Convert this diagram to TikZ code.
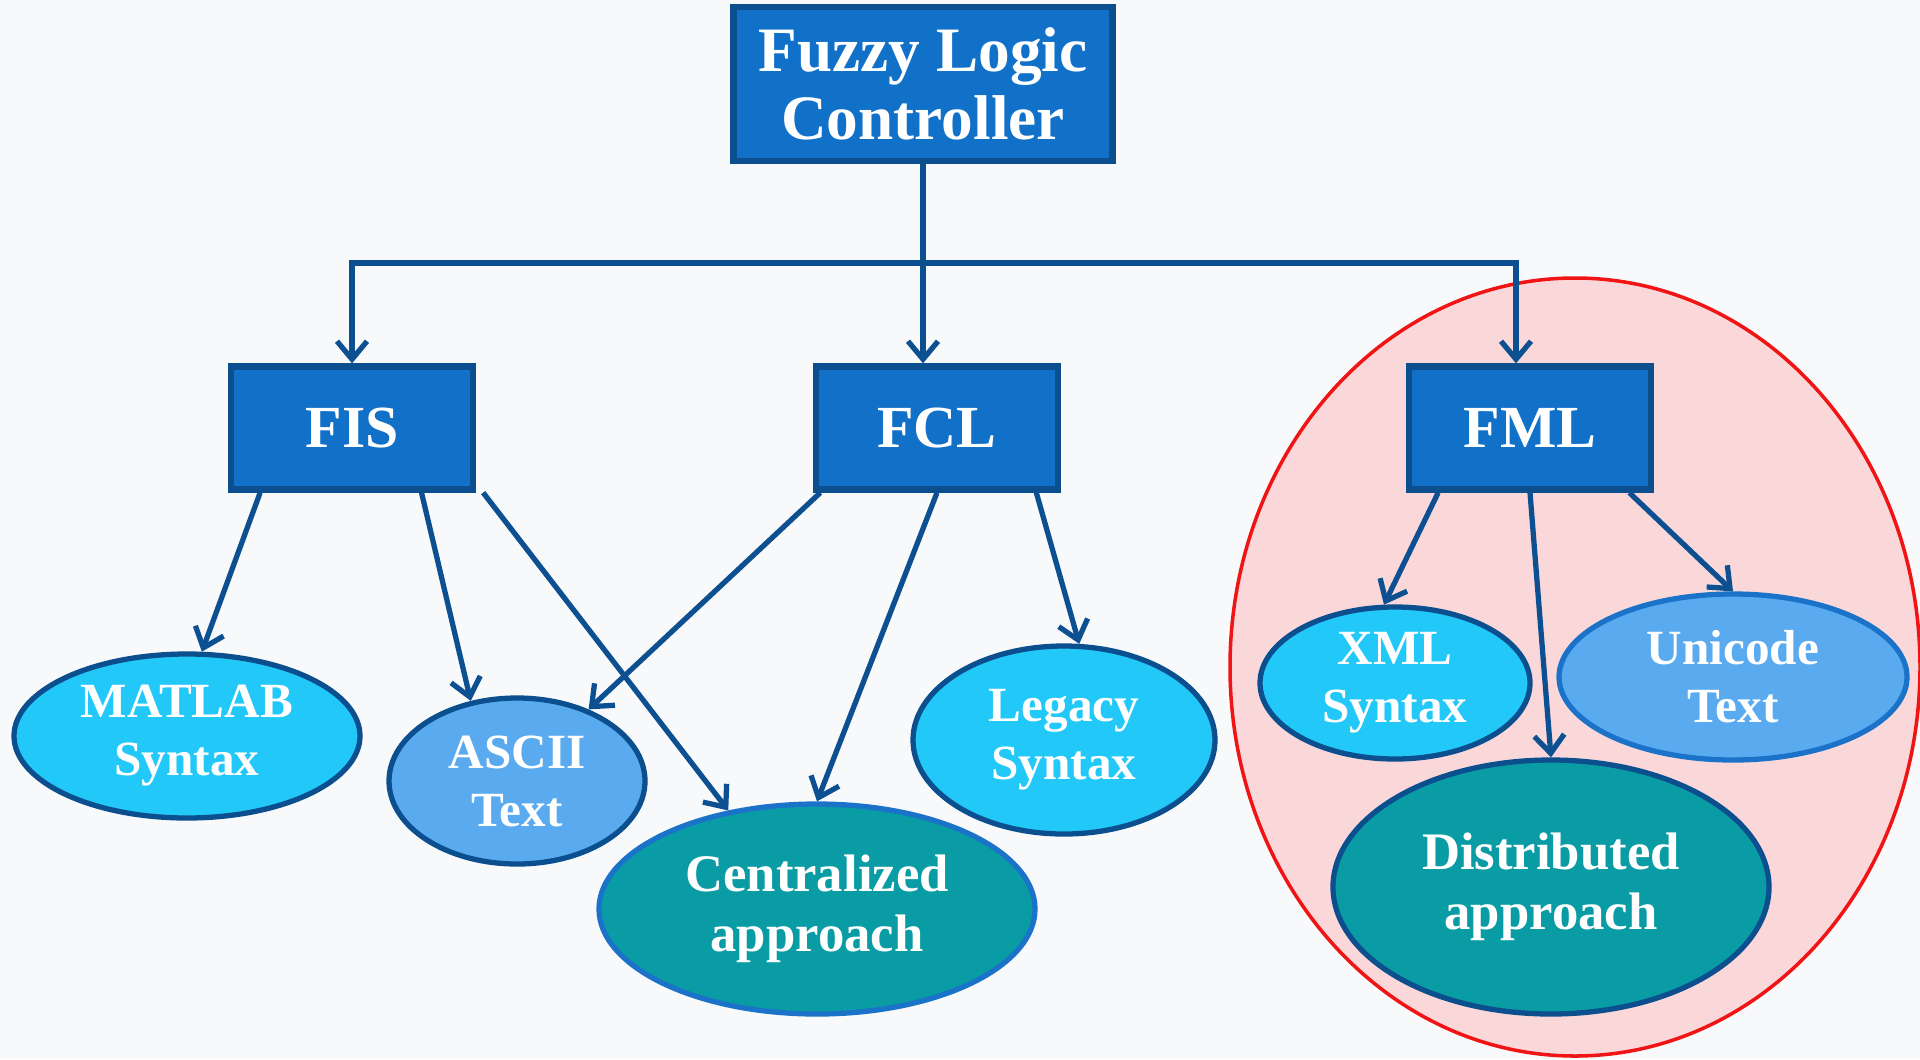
\documentclass[tikz,border=0pt]{standalone}
\usepackage{fontspec}
\setmainfont{Liberation Serif}
\usetikzlibrary{shapes.geometric,arrows.meta,calc}

\definecolor{boxfill}{RGB}{17,112,200}
\definecolor{boxline}{RGB}{11,79,143}
\definecolor{arrowblue}{RGB}{13,80,145}
\definecolor{leafcyan}{RGB}{34,200,247}
\definecolor{leafblue}{RGB}{90,170,240}
\definecolor{leafteal}{RGB}{10,156,164}
\definecolor{lightrim}{RGB}{26,115,200}
\definecolor{zonefill}{RGB}{250,216,218}
\definecolor{zonerim}{RGB}{240,20,20}
\definecolor{bgpaper}{RGB}{248,249,250}

\begin{document}
\begin{tikzpicture}[
    box/.style={draw=boxline, line width=1.8pt, fill=boxfill, text=white, minimum width=2.42cm, minimum height=1.23cm, align=center, font=\fontsize{17}{19}\selectfont\bfseries},
    leaf/.style={ellipse, draw=boxline, line width=1.5pt, text=white, inner sep=0pt, align=center, font=\fontsize{14}{16.5}\selectfont\bfseries},
    bigleaf/.style={leaf, fill=leafteal, font=\fontsize{15}{17}\selectfont\bfseries},
    arr/.style={-{Straight Barb[length=1.8mm,width=3mm]}, line width=1.5pt, draw=arrowblue},
]
    % --- canvas ---
    \fill[bgpaper] (0,0) rectangle (19.2,-10.59);
    \useasboundingbox (0,0) rectangle (19.2,-10.59);

    % --- FML region ---
    \node[ellipse, draw=zonerim, line width=1pt, fill=zonefill, minimum width=6.9cm, minimum height=7.78cm] (zone) at (15.75,-6.67) {};

    % --- top level ---
    \node[box, minimum width=3.79cm, minimum height=1.54cm, font=\fontsize{18}{19.5}\selectfont\bfseries] (flc) at (9.23,-0.84) {Fuzzy Logic\\Controller};
    \coordinate (hub) at (9.23,-2.63);

    % --- formats ---
    \node[box] (fis) at (3.52,-4.28) {FIS};
    \node[box] (fcl) at (9.37,-4.28) {FCL};
    \node[box] (fml) at (15.30,-4.28) {FML};

    % --- leaves ---
    \node[leaf, fill=leafcyan, minimum width=3.46cm, minimum height=1.64cm] (matlab) at (1.87,-7.36) {MATLAB\\Syntax};
    \node[leaf, fill=leafblue, minimum width=2.56cm, minimum height=1.66cm] (ascii) at (5.17,-7.81) {ASCII\\Text};
    \node[bigleaf, draw=lightrim, minimum width=4.36cm, minimum height=2.10cm] (central) at (8.17,-9.09) {Centralized\\approach};
    \node[leaf, fill=leafcyan, minimum width=3.02cm, minimum height=1.88cm] (legacy) at (10.64,-7.40) {Legacy\\Syntax};
    \node[leaf, fill=leafcyan, minimum width=2.70cm, minimum height=1.52cm] (xml) at (13.95,-6.83) {XML\\Syntax};
    \node[leaf, fill=leafblue, draw=lightrim, minimum width=3.48cm, minimum height=1.66cm] (unicode) at (17.33,-6.77) {Unicode\\Text};
    \node[bigleaf, minimum width=4.36cm, minimum height=2.54cm] (distrib) at (15.51,-8.87) {Distributed\\approach};

    % --- tree from the controller ---
    \draw[arr] (flc.south) -- (flc.south |- fcl.north);
    \draw[arr] (hub) -| (fis.north);
    \draw[arr] (hub) -| ([xshift=-0.14cm]fml.north);

    % --- FIS ---
    \draw[arr] ($(fis.south west)!0.13!(fis.south east)$) -- (matlab.80);
    \draw[arr] ($(fis.south west)!0.78!(fis.south east)$) -- (ascii.120);
    \draw[arr] ([xshift=0.07cm]fis.south east) -- (central.132);

    % --- FCL ---
    \draw[arr] ($(fcl.south west)!0.03!(fcl.south east)$) -- (ascii.45);
    \draw[arr] (fcl.south) -- (central.north);
    \draw[arr] ($(fcl.south west)!0.90!(fcl.south east)$) -- (legacy.81);

    % --- FML ---
    \draw[arr] ($(fml.south west)!0.13!(fml.south east)$) -- (xml.98);
    \draw[arr] (fml.south) -- (distrib.north);
    \draw[arr] ($(fml.south west)!0.90!(fml.south east)$) -- (unicode.north);
\end{tikzpicture}
\end{document}
